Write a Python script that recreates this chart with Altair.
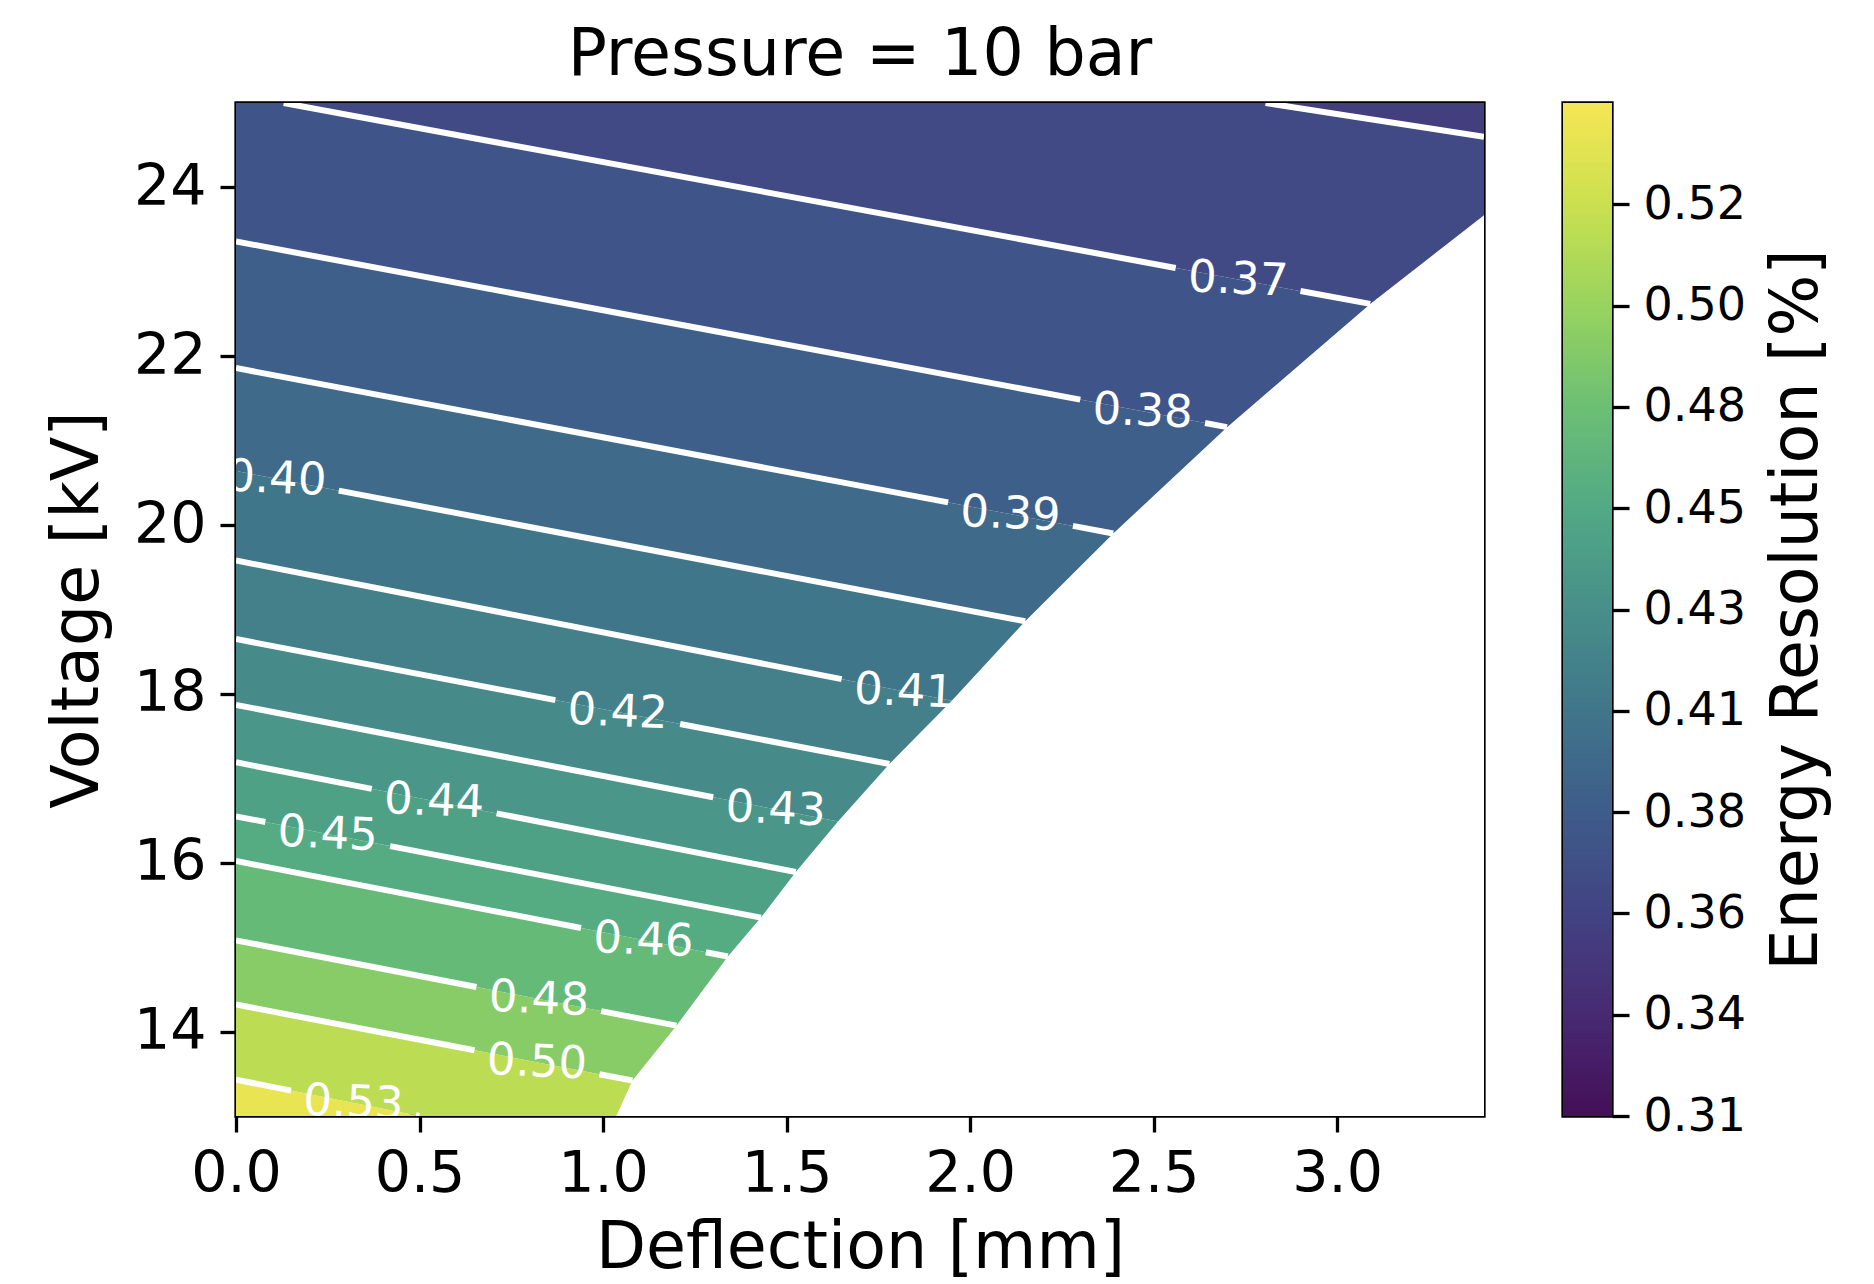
import math
import altair as alt
import numpy as np
import pandas as pd

FONT = "DejaVu Sans"

# ---------------- values ----------------
# contour levels (as labelled) and the two end points of each contour line
levels  = [0.36, 0.37, 0.38, 0.39, 0.40, 0.41, 0.42, 0.43, 0.44, 0.45, 0.46, 0.48, 0.50, 0.53]
start_x = [2.805, 0.13, 0.0, 0.0, 0.0, 0.0, 0.0, 0.0, 0.0, 0.0, 0.0, 0.0, 0.0, 0.0]
start_y = [25.00, 25.00, 23.36, 21.86, 20.64, 19.58, 18.65, 17.87, 17.19, 16.55, 16.02, 15.08, 14.32, 13.43]
end_x   = [3.40, 3.09, 2.70, 2.39, 2.15, 1.95, 1.78, 1.64, 1.525, 1.43, 1.34, 1.20, 1.08, 0.50]
end_y   = [24.60, 22.62, 21.16, 19.90, 18.86, 17.92, 17.17, 16.49, 15.89, 15.35, 14.89, 14.07, 13.42, 13.00]
# where each inline label sits along its line (deflection, mm)
label_x = [None, 2.73, 2.47, 2.11, 0.11, 1.82, 1.04, 1.47, 0.54, 0.25, 1.11, 0.825, 0.82, 0.32]
# field value between neighbouring contours (above 0.36 ... below 0.53)
band_val = [0.355, 0.365, 0.375, 0.385, 0.395, 0.405, 0.415, 0.425, 0.435,
            0.445, 0.455, 0.470, 0.490, 0.515, 0.538]
# edge of the region with data (white beyond it)
bnd_x = [1.036, 1.08, 1.20, 1.34, 1.43, 1.525, 1.64, 1.78, 1.95, 2.15, 2.39, 2.70, 3.09, 3.40]
bnd_y = [13.00, 13.42, 14.07, 14.89, 15.35, 15.89, 16.49, 17.17, 17.92, 18.86, 19.90, 21.16, 22.62, 23.67]

# axes / colour bar
x_ticks = [0.0, 0.5, 1.0, 1.5, 2.0, 2.5, 3.0]
y_ticks = [14, 16, 18, 20, 22, 24]
X_DOM = [0.0, 3.4]
Y_DOM = [13.0, 25.0]
VMIN, VMAX = 0.3122, 0.5450
cbar_ticks = [0.3122, 0.3355, 0.3588, 0.3820, 0.4053, 0.4286, 0.4519, 0.4752, 0.4984, 0.5217]
# colour map as it appears in the reference colour bar (bottom -> top)
cmap_colors = ["#440f58", "#472a72", "#424382", "#3e5c8a", "#40768a", "#478f89",
               "#52a985", "#6cbf74", "#98d35f", "#cbe04f", "#f5e654"]

# ---------------- layout / style ----------------
W, H = 1248, 1013
CBW = 49
GAP = 0.17          # half width of the label gap along x
LABEL_ANGLE = 2.5   # inline labels are only slightly tilted


def slope(i):
    return (end_y[i] - start_y[i]) / (end_x[i] - start_x[i])


def yline(i, x):
    return start_y[i] + slope(i) * (x - start_x[i])


# filled bands between contour lines
band_rows = []
n = len(levels)
for b in range(n + 1):
    for x in X_DOM:
        hi = 26.0 if b == 0 else yline(b - 1, x)
        lo = 12.0 if b == n else yline(b, x)
        band_rows.append(dict(band=b, x=x, y_lo=lo, y_hi=hi, val=band_val[b]))
bands_df = pd.DataFrame(band_rows)

# white mask right of the data edge
mask_df = pd.DataFrame({"x": bnd_x, "y": bnd_y, "xr": [X_DOM[1]] * len(bnd_x)})

# contour line pieces (broken where the labels are)
seg_rows = []
lab_rows = []
sid = 0
for i, lev in enumerate(levels):
    lx = label_x[i]
    if lx is None:
        pieces = [(start_x[i], end_x[i])]
    else:
        pieces = [(start_x[i], lx - GAP), (lx + GAP, end_x[i])]
        lab_rows.append(dict(x=lx, y=yline(i, lx), text=f"{lev:.2f}"))
    for a, c in pieces:
        a2, c2 = max(a, start_x[i]), min(c, end_x[i])
        if c2 - a2 > 0.004:
            seg_rows.append(dict(seg=sid, x=a2, y=yline(i, a2)))
            seg_rows.append(dict(seg=sid, x=c2, y=yline(i, c2)))
            sid += 1
seg_df = pd.DataFrame(seg_rows)
lab_df = pd.DataFrame(lab_rows)

xs = alt.Scale(domain=X_DOM, nice=False, zero=False)
ys = alt.Scale(domain=Y_DOM, nice=False, zero=False)
cs = alt.Scale(domain=list(np.linspace(VMIN, VMAX, len(cmap_colors))),
               range=cmap_colors, interpolate="rgb")

x_axis = alt.Axis(values=x_ticks, format=".1f", tickSize=16, labelFontSize=57,
                  labelPadding=14, titleFontSize=65, titlePadding=14,
                  labelFlush=False, labelOverlap=False)
y_axis = alt.Axis(values=y_ticks, format="d", tickSize=16, labelFontSize=57,
                  labelPadding=14, titleFontSize=65, titlePadding=22,
                  labelOverlap=False)

XT = "Deflection [mm]"
YT = "Voltage [kV]"

bands = alt.Chart(bands_df).mark_area(clip=True, interpolate="linear").encode(
    x=alt.X("x:Q", scale=xs, axis=x_axis, title=XT),
    y=alt.Y("y_lo:Q", scale=ys, axis=y_axis, title=YT),
    y2="y_hi:Q",
    color=alt.Color("val:Q", scale=cs, legend=None),
    detail="band:N",
)

mask = alt.Chart(mask_df).mark_area(orient="horizontal", color="white", clip=True,
                                    interpolate="linear").encode(
    y=alt.Y("y:Q", scale=ys, title=YT),
    x=alt.X("x:Q", scale=xs, title=XT),
    x2="xr:Q",
)

lines = alt.Chart(seg_df).mark_line(color="white", strokeWidth=6, clip=True,
                                    strokeCap="butt").encode(
    x=alt.X("x:Q", scale=xs, title=XT),
    y=alt.Y("y:Q", scale=ys, title=YT),
    detail="seg:N",
)

labels = alt.Chart(lab_df).mark_text(color="white", font=FONT, fontSize=45,
                                     align="center", baseline="middle",
                                     angle=LABEL_ANGLE, clip=True).encode(
    x=alt.X("x:Q", scale=xs, title=XT),
    y=alt.Y("y:Q", scale=ys, title=YT),
    text="text:N",
)

main = alt.layer(bands, mask, lines, labels).properties(
    width=W, height=H,
    title=alt.TitleParams(text="Pressure = 10 bar", fontSize=65, font=FONT,
                          fontWeight="normal", color="black", anchor="middle",
                          frame="group", offset=-51, baseline="bottom"),
)

# colour bar
cb_lo = np.arange(VMIN, VMAX, 0.001)
cb_df = pd.DataFrame({"lo": cb_lo,
                      "hi": np.minimum(cb_lo + 0.0016, VMAX),
                      "mid": np.minimum(cb_lo + 0.0005, VMAX)})
cbar = alt.Chart(cb_df).mark_rect().encode(
    y=alt.Y("lo:Q", scale=alt.Scale(domain=[VMIN, VMAX], nice=False, zero=False),
            axis=alt.Axis(orient="right", values=cbar_ticks, format=".2f",
                          tickSize=17, labelFontSize=46, labelPadding=14,
                          title="Energy Resolution [%]", titleFontSize=65,
                          titleAngle=270, titleBaseline="top", titlePadding=20,
                          labelOverlap=False)),
    y2="hi:Q",
    color=alt.Color("mid:Q", scale=cs, legend=None),
).properties(width=CBW, height=H)

chart = alt.hconcat(main, cbar, spacing=75).properties(
    padding={"left": 35, "top": 13, "right": 5, "bottom": 0},
    background="white",
).configure_view(
    stroke="black", strokeWidth=3.3,
).configure_axis(
    labelFont=FONT, titleFont=FONT, labelColor="black", titleColor="black",
    tickColor="black", tickWidth=3.3, domain=False, grid=False,
    titleFontWeight="normal",
)

chart.save("out.html", embed_options={"renderer": "svg", "actions": False})
